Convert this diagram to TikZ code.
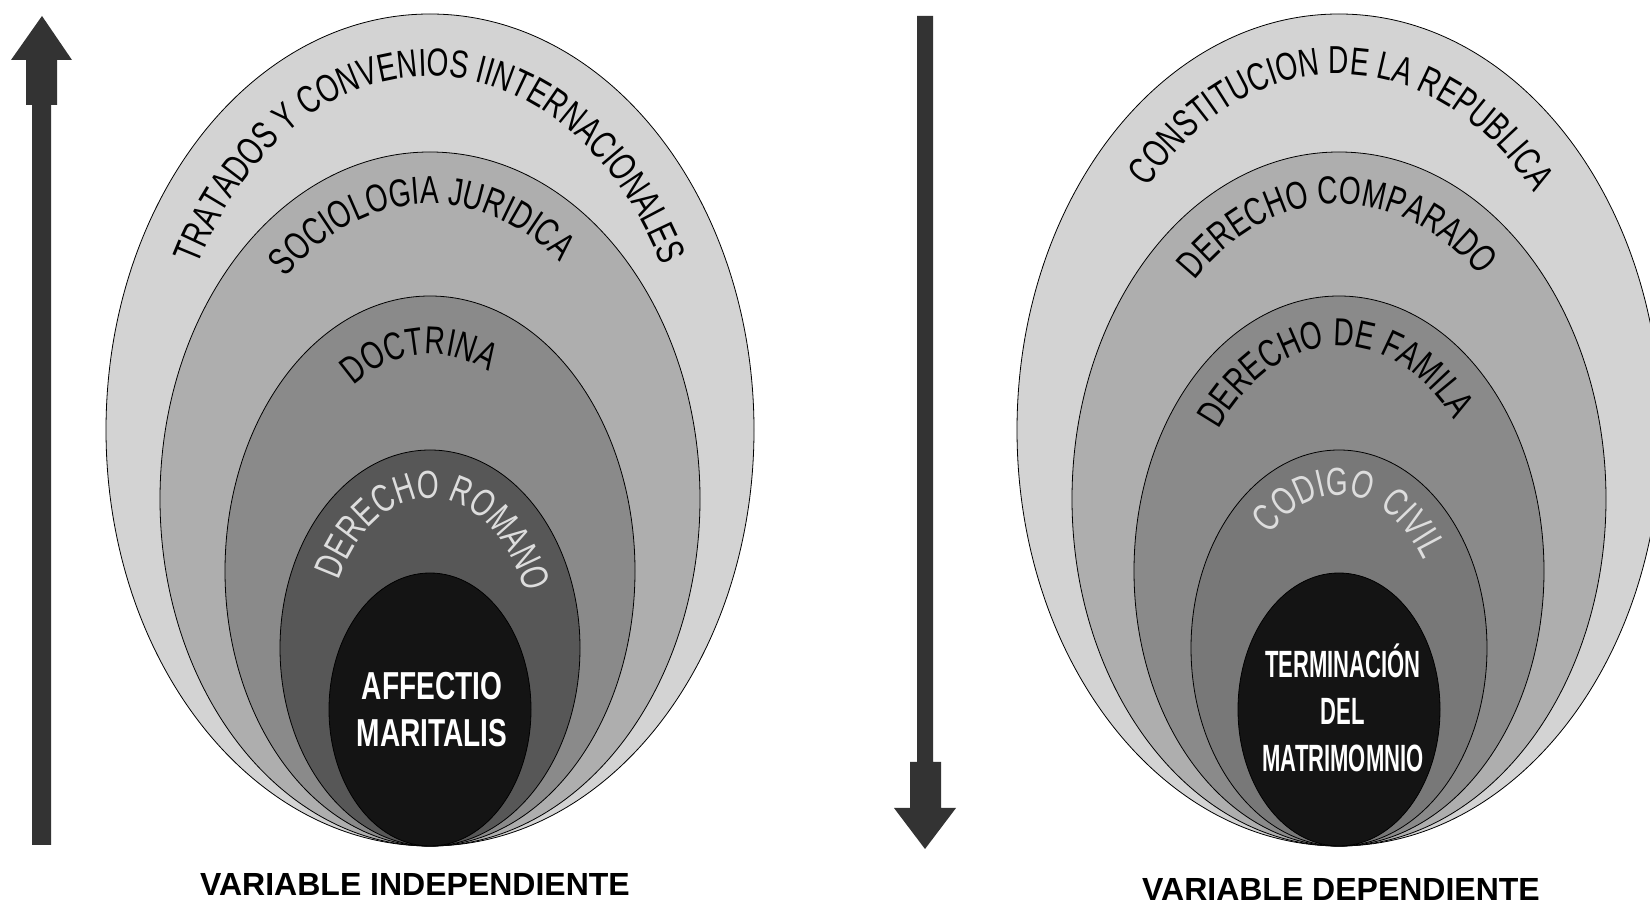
\documentclass[tikz,border=0pt]{standalone}
\usepackage{fontspec}
\setmainfont{Liberation Sans}
\newfontfamily\arcfont[FakeStretch=0.72]{Liberation Sans}
\newfontfamily\coreleft[FakeStretch=0.72]{Liberation Sans}
\newfontfamily\coreright[FakeStretch=0.58]{Liberation Sans}
\usetikzlibrary{decorations.text}

\definecolor{ringA}{HTML}{D3D3D3}
\definecolor{ringB}{HTML}{AEAEAE}
\definecolor{ringC}{HTML}{8A8A8A}
\definecolor{ringDl}{HTML}{575757}
\definecolor{ringDr}{HTML}{787878}
\definecolor{core}{HTML}{141414}
\definecolor{shaft}{HTML}{333333}
\definecolor{pale}{HTML}{DDDDDD}

\tikzset{
	ring/.style={draw=black, line width=0.8pt, fill=#1},
	curved/.style 2 args={decorate, decoration={text along path, text align=center,
		text={|\arcfont\fontsize{39}{39}\selectfont\color{#1}|#2}}},
	corelabel/.style={text=white, align=center, anchor=base},
	varlabel/.style={font=\bfseries\fontsize{32}{32}\selectfont, anchor=base}
}

\begin{document}
\begin{tikzpicture}[x=1pt, y=1pt]
	\useasboundingbox (0,0) rectangle (1650,905);
	\clip (0,0) rectangle (1650,905);

	% arrows
	\fill[shaft] (32,60) -- (51,60) -- (51,800) -- (57,800) -- (57,845) -- (72,845)
		-- (42,889) -- (11,845) -- (26,845) -- (26,800) -- (32,800) -- cycle;
	\fill[shaft] (917,889) -- (933,889) -- (933,143) -- (941,143) -- (941,97) -- (956,97)
		-- (925,56) -- (894,97) -- (910,97) -- (910,143) -- (917,143) -- cycle;

	% independent side
	\draw[ring=ringA] (430,475) ellipse[x radius=324, y radius=416];
	\draw[ring=ringB] (430,406) ellipse[x radius=270, y radius=347];
	\draw[ring=ringC] (430,334) ellipse[x radius=205, y radius=275];
	\draw[ring=ringDl] (430,257) ellipse[x radius=150, y radius=198];
	\draw[ring=core] (430,195.5) ellipse[x radius=101, y radius=136.5];

	\path[curved={black}{TRATADOS Y CONVENIOS IINTERNACIONALES}]
		([shift={(175:262 and 354)}]430,475) arc[start angle=175, end angle=5, x radius=262, y radius=354];
	\path[curved={black}{SOCIOLOGIA JURIDICA}]
		([shift={(177:218 and 295)}]430,406) arc[start angle=177, end angle=7, x radius=218, y radius=295];
	\path[curved={black}{DOCTRINA}]
		([shift={(178:147 and 217)}]430,334) arc[start angle=178, end angle=8, x radius=147, y radius=217];
	\path[curved={pale}{DERECHO ROMANO}]
		([shift={(172:102 and 150)}]430,257) arc[start angle=172, end angle=3, x radius=102, y radius=150];

	\node[corelabel, font=\coreleft\bfseries\fontsize{39}{47}\selectfont] (affectio) at (432,158)
		{AFFECTIO\\MARITALIS};
	\node[varlabel] (independiente) at (415,9) {VARIABLE INDEPENDIENTE};

	% dependent side
	\draw[ring=ringA] (1339,475) ellipse[x radius=322, y radius=416];
	\draw[ring=ringB] (1339,406) ellipse[x radius=267, y radius=347];
	\draw[ring=ringC] (1339,334) ellipse[x radius=205, y radius=275];
	\draw[ring=ringDr] (1339,257) ellipse[x radius=148, y radius=198];
	\draw[ring=core] (1339,195.5) ellipse[x radius=101, y radius=136.5];

	\path[curved={black}{CONSTITUCION DE LA REPUBLICA}]
		([shift={(174:262 and 356)}]1339,475) arc[start angle=174, end angle=5, x radius=262, y radius=356];
	\path[curved={black}{DERECHO COMPARADO}]
		([shift={(175:215 and 295)}]1339,406) arc[start angle=175, end angle=6, x radius=215, y radius=295];
	\path[curved={black}{DERECHO DE FAMILA}]
		([shift={(176:155 and 225)}]1339,334) arc[start angle=176, end angle=7, x radius=155, y radius=225];
	\path[curved={pale}{CODIGO CIVIL}, decoration={text align=fit to path stretching spaces}]
		([shift={(132:103 and 153)}]1339,257) arc[start angle=132, end angle=35, x radius=103, y radius=153];

	\node[corelabel, font=\coreright\bfseries\fontsize{38}{47}\selectfont] (terminacion) at (1343,133)
		{TERMINACIÓN\\DEL\\MATRIMOMNIO};
	\node[varlabel] (dependiente) at (1341,4) {VARIABLE DEPENDIENTE};
\end{tikzpicture}
\end{document}
